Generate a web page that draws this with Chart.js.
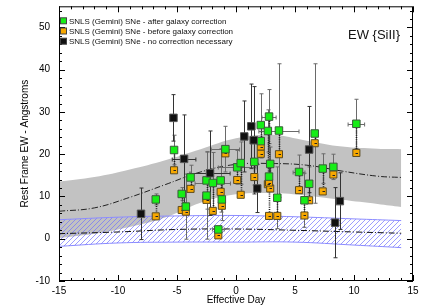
<!DOCTYPE html>
<html>
<head>
<meta charset="utf-8">
<script src="https://cdn.jsdelivr.net/npm/chart.js@4"></script>
<style>
  html, body { margin: 0; padding: 0; background: #fff; }
  #wrap { width: 428px; height: 306px; }
</style>
</head>
<body>
<div id="wrap"><canvas id="c"></canvas></div>
<script>
// pairs: same SN before / after host galaxy correction
const pairX     = [-6.8, -5.25, -4.6, -4.25, -3.85, -2.5, -2.5, -1.97, -1.3, -1.2, -1.5, -0.9, 0.1, 0.4, 1.55, 2.1, 2.1, 2.7, 2.8, 2.9, 2.8, 3.5, 3.64, 5.34, 5.8, 6.2, 6.67, 7.35, 8.25, 10.2];
const greenY    = [9.3, 21.0, 10.6, 7.6, 14.5, 13.8, 10.2, 13.2, 13.8, 9.3, 2.2, 21.2, 16.9, 17.9, 18.2, 26.9, 23.1, 25.5, 28.9, 17.7, 14.7, 9.7, 25.6, 15.8, 9.1, 13.0, 24.9, 16.6, 17.0, 27.2];
const greenErr  = [1.3, 3.5, 1.5, 7.7, 2.9, 6.8, 10.3, 7.2, 7.5, 5.0, 0.8, 5.4, 4.0, 5.0, 5.5, 7.4, 4.0, 5.0, 6.4, 4.0, 3.0, 7.3, 15.8, 4.0, 6.4, 4.0, 16.5, 3.5, 3.0, 5.8];
const greenXErr = [0, 0, 0, 0, 0, 0, 0, 1.5, 0, 0, 0.5, 1.2, 1.6, 0, 0, 0, 0, 0, 0.6, 0, 0, 0, 1.7, 0.5, 0, 0, 0, 0, 0, 0.7];
const orangeY   = [5.3, 16.2, 6.8, 6.4, 11.8, 9.6, 9.2, 6.6, 11.1, 7.8, 0.8, 20.2, 13.9, 10.4, 14.6, 21.8, 20.1, 12.9, 5.4, 11.9, 13.3, 5.4, 20.0, 11.5, 5.5, 9.1, 22.6, 11.2, 15.2, 20.3];

// no correction necessary
const blackX    = [-8.05, -5.3, -4.4, -2.2, 0.7, 1.3, 1.5, 1.8, 6.2, 8.4, 8.8];
const blackY    = [5.9, 28.6, 18.9, 15.5, 24.2, 26.6, 23.3, 11.9, 21.1, 3.8, 8.9];
const blackErr  = [6.1, 5.5, 10.4, 10.0, 8.4, 10.0, 12.7, 5.7, 10.2, 8.3, 6.7];
const blackXErr = [0, 0, 1.0, 1.7, 0, 0, 0, 0, 0, 0, 0];

// template bands
const bandX   = [-15, -12, -9, -6, -3, 0, 3, 6, 9, 12, 14];
const grayHi  = [13.5, 14.6, 16.4, 18.6, 21.2, 23.8, 24.6, 23.2, 21.8, 21.3, 21.2];
const grayMid = [6.5, 7.3, 9.8, 12.8, 15.8, 17.6, 17.8, 17.4, 16.0, 14.8, 14.5];
const grayLo  = [0.2, 1.2, 2.8, 5.0, 8.5, 10.5, 10.8, 10.2, 9.2, 8.2, 7.5];

const hatchX   = [-15, -10, -5, 0, 5, 10, 14];
const hatchHi  = [4.5, 5.1, 5.4, 5.5, 5.2, 4.7, 4.3];
const hatchMid = [1.2, 1.6, 2.2, 2.3, 2.0, 1.6, 1.3];
const hatchLo  = [-1.8, -1.0, -0.8, -0.8, -0.8, -1.5, -2.1];

const legendLabels = [
  'SNLS (Gemini) SNe - after galaxy correction',
  'SNLS (Gemini) SNe - before galaxy correction',
  'SNLS (Gemini) SNe - no correction necessary'
];

const GREEN = '#16ee16', ORANGE = '#f7a800', BLACK = '#111111';
const FONT = 'Helvetica, Arial, "Liberation Sans", sans-serif';

const pts = (xs, ys) => xs.map((v, i) => ({ x: v, y: ys[i] }));

function hatchPattern() {
  const c = document.createElement('canvas');
  c.width = 5; c.height = 5;
  const g = c.getContext('2d');
  g.strokeStyle = 'rgba(110,110,255,0.85)';
  g.lineWidth = 0.8;
  g.beginPath();
  g.moveTo(-1, 6); g.lineTo(6, -1);
  g.moveTo(-1, 1); g.lineTo(1, -1);
  g.moveTo(4, 6); g.lineTo(6, 4);
  g.stroke();
  return g.createPattern(c, 'repeat');
}

const ORANGE_INDEX = 6;

const errorBars = {
  id: 'errorBars',
  beforeDatasetDraw(chart, args) {
    if (args.index !== ORANGE_INDEX) return;
    const { ctx, scales: { x, y } } = chart;
    const cap = 2;
    const vbar = (xv, yv, e, col) => {
      if (!e) return;
      const px = Math.round(x.getPixelForValue(xv)) + 0.5;
      const y1 = y.getPixelForValue(yv - e), y2 = y.getPixelForValue(yv + e);
      ctx.strokeStyle = col;
      ctx.beginPath();
      ctx.moveTo(px, y1); ctx.lineTo(px, y2);
      ctx.moveTo(px - cap, y1); ctx.lineTo(px + cap, y1);
      ctx.moveTo(px - cap, y2); ctx.lineTo(px + cap, y2);
      ctx.stroke();
    };
    const hbar = (xv, yv, e, col) => {
      if (!e) return;
      const py = Math.round(y.getPixelForValue(yv)) + 0.5;
      const x1 = x.getPixelForValue(xv - e), x2 = x.getPixelForValue(xv + e);
      ctx.strokeStyle = col;
      ctx.beginPath();
      ctx.moveTo(x1, py); ctx.lineTo(x2, py);
      ctx.moveTo(x1, py - cap); ctx.lineTo(x1, py + cap);
      ctx.moveTo(x2, py - cap); ctx.lineTo(x2, py + cap);
      ctx.stroke();
    };
    ctx.save();
    ctx.lineWidth = 1;
    pairX.forEach((v, i) => { vbar(v, greenY[i], greenErr[i], '#6a6a6a'); hbar(v, greenY[i], greenXErr[i], '#6a6a6a'); });
    blackX.forEach((v, i) => { vbar(v, blackY[i], blackErr[i], '#333'); hbar(v, blackY[i], blackXErr[i], '#333'); });
    // dotted links from before to after correction
    ctx.strokeStyle = '#1a1a1a';
    ctx.lineWidth = 1.6;
    ctx.setLineDash([1, 1.2]);
    pairX.forEach((v, i) => {
      const px = Math.round(x.getPixelForValue(v)) + 0.5;
      ctx.beginPath();
      ctx.moveTo(px, y.getPixelForValue(greenY[i]));
      ctx.lineTo(px, y.getPixelForValue(orangeY[i]));
      ctx.stroke();
    });
    ctx.restore();
  },
  afterDatasetDraw(chart, args) {
    if (args.index !== ORANGE_INDEX) return;
    // small error marks inside the orange boxes
    const { ctx, scales: { x, y } } = chart;
    ctx.save();
    ctx.strokeStyle = '#222';
    ctx.lineWidth = 1;
    pairX.forEach((v, i) => {
      const px = Math.round(x.getPixelForValue(v)) + 0.5;
      const py = Math.round(y.getPixelForValue(orangeY[i])) + 0.5;
      ctx.beginPath();
      ctx.moveTo(px - 1, py); ctx.lineTo(px + 1.5, py);
      ctx.stroke();
    });
    ctx.restore();
  }
};

const frame = {
  id: 'frame',
  afterDatasetsDraw(chart) {
    const { ctx, chartArea: a, scales: { x, y } } = chart;
    ctx.save();
    ctx.strokeStyle = '#000';
    ctx.lineWidth = 1;
    ctx.strokeRect(a.left + 0.5, a.top + 0.5, a.right - a.left - 1, a.bottom - a.top - 1);
    ctx.beginPath();
    for (let v = x.min; v <= x.max; v += 1) {
      const len = v % 5 === 0 ? 6 : 3;
      const px = Math.round(x.getPixelForValue(v)) + 0.5;
      ctx.moveTo(px, a.bottom); ctx.lineTo(px, a.bottom - len);
      ctx.moveTo(px, a.top); ctx.lineTo(px, a.top + len);
    }
    for (let v = y.min; v <= y.max; v += 2) {
      const len = v % 10 === 0 ? 6 : 3;
      const py = Math.round(y.getPixelForValue(v)) + 0.5;
      ctx.moveTo(a.left, py); ctx.lineTo(a.left + len, py);
      ctx.moveTo(a.right, py); ctx.lineTo(a.right - len, py);
    }
    ctx.stroke();
    ctx.restore();
  },
  afterDraw(chart) {
    const { ctx, chartArea: a } = chart;
    ctx.save();
    const cols = [GREEN, ORANGE, BLACK];
    ctx.font = '8px ' + FONT;
    ctx.textBaseline = 'middle';
    legendLabels.forEach((t, i) => {
      const cy = a.top + 14.5 + i * 10.2;
      ctx.fillStyle = cols[i];
      ctx.strokeStyle = '#444';
      ctx.fillRect(a.left + 1.5, cy - 3, 6, 6);
      ctx.strokeRect(a.left + 1.5, cy - 3, 6, 6);
      ctx.fillStyle = '#111';
      ctx.fillText(t, a.left + 10, cy + 0.5);
    });
    ctx.font = '13px ' + FONT;
    ctx.textAlign = 'right';
    ctx.fillText('EW {SiII}', a.right - 13, a.top + 29);
    ctx.restore();
  }
};

const ctx = document.getElementById('c').getContext('2d');
const pattern = hatchPattern();

new Chart(ctx, {
  type: 'scatter',
  data: {
    datasets: [
      { type: 'line', data: pts(bandX, grayLo), borderWidth: 0, pointRadius: 0, tension: 0.4, fill: false, order: 20 },
      { type: 'line', data: pts(bandX, grayHi), borderWidth: 0, pointRadius: 0, tension: 0.4, fill: '-1', backgroundColor: '#c2c2c2', order: 19 },
      { type: 'line', data: pts(bandX, grayMid), borderColor: '#222', borderWidth: 1, borderDash: [6, 2, 1, 2], pointRadius: 0, tension: 0.4, fill: false, order: 18 },
      { type: 'line', data: pts(hatchX, hatchLo), borderColor: '#8c8cff', borderWidth: 1, pointRadius: 0, tension: 0.4, fill: false, order: 17 },
      { type: 'line', data: pts(hatchX, hatchHi), borderColor: '#8c8cff', borderWidth: 1, pointRadius: 0, tension: 0.4, fill: '-1', backgroundColor: pattern, order: 16 },
      { type: 'line', data: pts(hatchX, hatchMid), borderColor: '#111', borderWidth: 1, borderDash: [6, 2, 1, 2], pointRadius: 0, tension: 0.4, fill: false, order: 15 },
      { label: legendLabels[1], data: pts(pairX, orangeY), pointStyle: 'rect', pointRadius: 5, backgroundColor: ORANGE, borderColor: '#5a4a20', borderWidth: 1, order: 3 },
      { label: legendLabels[0], data: pts(pairX, greenY), pointStyle: 'rect', pointRadius: 5.3, backgroundColor: GREEN, borderColor: '#3c5a3c', borderWidth: 1, order: 2 },
      { label: legendLabels[2], data: pts(blackX, blackY), pointStyle: 'rect', pointRadius: 5.3, backgroundColor: BLACK, borderColor: '#555', borderWidth: 1, order: 1 }
    ]
  },
  options: {
    responsive: true,
    maintainAspectRatio: false,
    animation: false,
    devicePixelRatio: 1,
    layout: { padding: { top: 1, right: 15, left: 0, bottom: 0 } },
    plugins: { legend: { display: false }, tooltip: { enabled: false } },
    scales: {
      x: {
        type: 'linear', min: -15, max: 15,
        grid: { display: false, drawTicks: false },
        border: { display: false },
        ticks: { stepSize: 5, includeBounds: false, padding: 4, color: '#000', font: { family: FONT, size: 10 }, maxRotation: 0 },
        title: { display: true, text: 'Effective Day', color: '#000', font: { family: FONT, size: 10 }, padding: { top: 0, bottom: 0 } },
        afterFit: s => { s.height = 25; s.paddingLeft = 0; s.paddingRight = 0; }
      },
      y: {
        type: 'linear', min: -10, max: 55,
        grid: { display: false, drawTicks: false },
        border: { display: false },
        ticks: { stepSize: 10, includeBounds: false, padding: 9, color: '#000', font: { family: FONT, size: 10 },
          callback: v => (v % 10 === 0 ? v : '') },
        title: { display: true, text: 'Rest Frame EW - Angstroms', color: '#000', font: { family: FONT, size: 10 }, padding: { top: 19.5, bottom: 0 } },
        afterFit: s => { s.width = 59; s.paddingTop = 0; s.paddingBottom = 0; }
      }
    }
  },
  plugins: [errorBars, frame]
});
</script>
</body>
</html>
